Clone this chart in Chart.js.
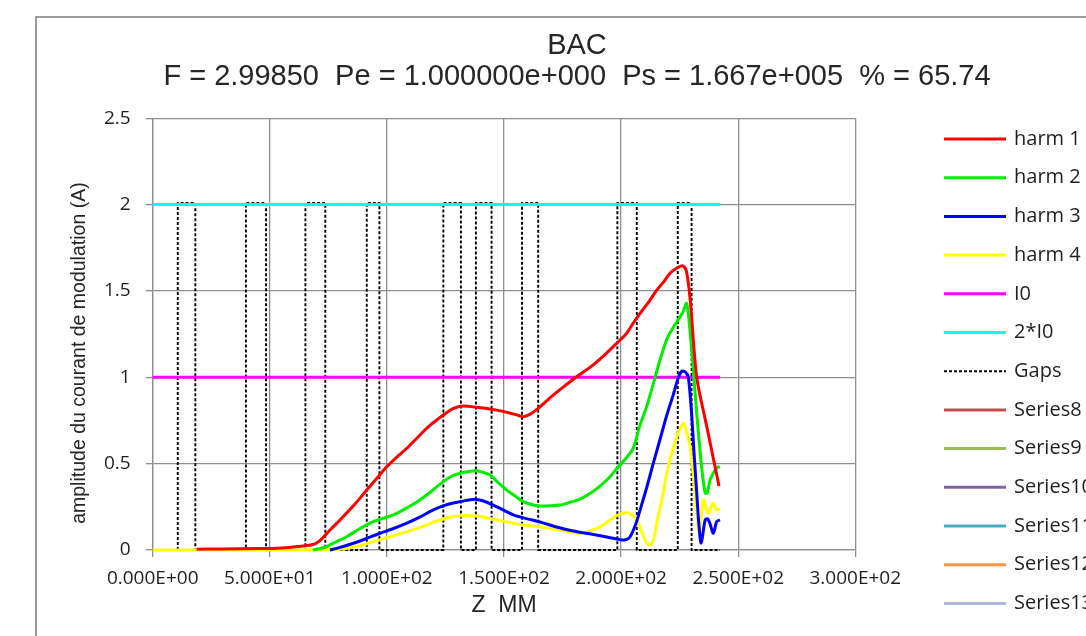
<!DOCTYPE html>
<html><head><meta charset="utf-8">
<script src="https://cdn.jsdelivr.net/npm/chart.js@4.4.0/dist/chart.umd.min.js"></script>
<style>html,body{margin:0;padding:0;background:#fff;overflow:hidden}canvas{display:block}</style>
</head><body>
<canvas id="c" width="1086" height="636"></canvas>
<script>
const titleLines = ['BAC', 'F = 2.99850  Pe = 1.000000e+000  Ps = 1.667e+005  % = 65.74'];
const xAxisTitle = 'Z  MM';
const yAxisTitle = 'amplitude du courant de modulation (A)';
const xTickLabels = ['0.000E+00','5.000E+01','1.000E+02','1.500E+02','2.000E+02','2.500E+02','3.000E+02'];
const yTickLabels = ['0','0.5','1','1.5','2','2.5'];
const seriesNames = ['harm 1','harm 2','harm 3','harm 4','I0','2*I0','Gaps','Series8','Series9','Series10','Series11','Series12','Series13'];

const harm1Z = [18.8,30,45,55,62,68,71,76,80,86,91.4,96,100,104,108.5,113,117,121,124.1,128.4,132.6,138.3,146.9,152,156,158.2,161,164.6,170,175,181,187,193,198.1,202.4,205,208.1,212,215.2,218,220.9,223.5,226.2,227.8,229.5,232.3,236.5,240,241.8];
const harm1  = [0.005,0.006,0.008,0.012,0.02,0.03,0.05,0.12,0.174,0.26,0.347,0.42,0.483,0.535,0.589,0.65,0.705,0.75,0.782,0.82,0.834,0.826,0.81,0.795,0.78,0.772,0.785,0.82,0.885,0.94,1.003,1.06,1.13,1.197,1.255,1.31,1.37,1.44,1.505,1.55,1.602,1.63,1.646,1.62,1.45,1.0,0.72,0.49,0.37];

const harm2Z = [68.5,72,74.3,78,82.8,88,94.2,102.7,108,114.1,119,124.1,128,131.2,135,138.3,141,144,147.5,151.2,155,158.2,162,165.4,170,173.9,178,182.5,187,191,195,198.1,202,205.2,208,210.9,213.7,216.6,219.5,222.3,225.2,226.5,228,229.4,230.8,232.3,234.4,235.9,236.8,238,240.8,242.2];
const harm2  = [0,0.01,0.02,0.045,0.077,0.12,0.164,0.203,0.24,0.29,0.34,0.396,0.43,0.444,0.455,0.459,0.45,0.434,0.39,0.347,0.31,0.28,0.262,0.255,0.256,0.26,0.275,0.295,0.33,0.37,0.42,0.47,0.53,0.59,0.72,0.83,0.96,1.1,1.22,1.29,1.35,1.38,1.428,1.27,1.05,0.79,0.48,0.33,0.33,0.405,0.475,0.482];

const harm3Z = [75.7,80,85.7,91,97.1,102,108.5,114,119.8,125,131.2,135,138.3,141,145.4,150,154,160,165.4,172,179.6,186,193.9,199.5,201.5,203.5,206,208.5,210.9,213.7,216.6,219.5,222.3,224.5,225.9,227.5,228.7,230.1,231.2,232.3,233.2,234.2,235.9,237,238,239.4,240.8,242.2];
const harm3  = [0,0.015,0.039,0.065,0.097,0.12,0.155,0.19,0.232,0.26,0.28,0.29,0.293,0.285,0.26,0.23,0.203,0.18,0.162,0.135,0.11,0.095,0.075,0.06,0.058,0.07,0.14,0.25,0.36,0.5,0.64,0.78,0.9,1.0,1.035,1.03,1.0,0.79,0.55,0.33,0.15,0.04,0.174,0.18,0.15,0.097,0.164,0.174];

const harm4Z = [0,20,40,60,70,80,87,94.2,101,108.5,116,122.7,129.8,138.3,146.9,158.2,165.4,172,179.6,184,188.1,193,198.1,202.4,205,206.7,209,210.5,212.3,213.8,215.2,217.5,219.5,222,224.4,226.6,228,229.5,231.6,233.4,235.1,237.2,239.1,240.8,242.2];
const harm4  = [0,0,0,0,0.002,0.005,0.02,0.048,0.075,0.106,0.14,0.174,0.197,0.197,0.174,0.145,0.135,0.12,0.1,0.1,0.116,0.15,0.2,0.216,0.2,0.174,0.1,0.05,0.029,0.06,0.155,0.3,0.444,0.58,0.676,0.734,0.68,0.598,0.33,0.097,0.29,0.212,0.27,0.232,0.241];

const i0Z = [0,242.2];
const i0  = [1,1];
const twoI0Z = [0,242.2];
const twoI0  = [2,2];

const gapsZ = [0,10.7,10.7,18.2,18.2,39.8,39.8,48.4,48.4,65.2,65.2,73.7,73.7,91.4,91.4,96.8,96.8,124.1,124.1,131.6,131.6,138.0,138.0,144.7,144.7,157.7,157.7,164.6,164.6,198.4,198.4,206.7,206.7,224.2,224.2,230.1,230.1,242.2];
const gaps  = [0,0,2.01,2.01,0,0,2.01,2.01,0,0,2.01,2.01,0,0,2.01,2.01,0,0,2.01,2.01,0,0,2.01,2.01,0,0,2.01,2.01,0,0,2.01,2.01,0,0,2.01,2.01,0,0];

const emptySeries = [];

function pts(zs, ys){ return zs.map((z,i)=>({x:z, y:ys[i]})); }

const colors = ['#ff0000','#00ee00','#0000ff','#ffff00','#ff00ff','#00ffff','#000000','#c0504d','#9bbb59','#8064a2','#4bacc6','#f79646','#aab9dd'];
const seriesData = [pts(harm1Z,harm1), pts(harm2Z,harm2), pts(harm3Z,harm3), pts(harm4Z,harm4), pts(i0Z,i0), pts(twoI0Z,twoI0), pts(gapsZ,gaps), emptySeries, emptySeries, emptySeries, emptySeries, emptySeries, emptySeries];

const datasets = seriesNames.map((name,i)=>({
  label: name,
  data: seriesData[i],
  borderColor: colors[i],
  backgroundColor: colors[i],
  borderWidth: i===6 ? 1.9 : 3,
  borderDash: i===6 ? [3,2] : [],
  tension: (i===6||i===4||i===5) ? 0 : 0.3,
  pointRadius: 0,
  fill: false,
  clip: false
}));

const frameAndLegend = {
  id: 'frameAndLegend',
  beforeDraw(chart){
    const ctx = chart.ctx;
    ctx.save();
    ctx.fillStyle = '#ffffff';
    ctx.fillRect(0,0,chart.width,chart.height);
    ctx.strokeStyle = '#9a9a9a';
    ctx.lineWidth = 2;
    ctx.strokeRect(36, 17, 2000, 2000);
    ctx.restore();
  },
  afterDraw(chart){
    const ctx = chart.ctx;
    ctx.save();
    ctx.font = '20px "Open Sans"';
    ctx.textBaseline = 'middle';
    ctx.textAlign = 'left';
    chart.data.datasets.forEach((ds,i)=>{
      const y = 139 + i*38.7;
      ctx.beginPath();
      ctx.strokeStyle = ds.borderColor;
      ctx.lineWidth = ds.borderWidth;
      ctx.setLineDash(ds.borderDash || []);
      ctx.moveTo(944, y); ctx.lineTo(1006, y);
      ctx.stroke();
      ctx.setLineDash([]);
      ctx.fillStyle = '#1f1f1f';
      ctx.fillText(ds.label, 1014, y);
    });
    ctx.restore();
  }
};

const gridColor = '#8f8f8f';
new Chart(document.getElementById('c'), {
  type: 'line',
  data: { datasets },
  plugins: [frameAndLegend],
  options: {
    responsive: false,
    devicePixelRatio: 1,
    animation: false,
    parsing: true,
    layout: { padding: { left: 68, right: 0, top: 0, bottom: 0 } },
    plugins: {
      legend: { display: false },
      tooltip: { enabled: false },
      title: {
        display: true,
        text: titleLines,
        color: '#262626',
        font: { family: '"Liberation Sans", Arial, sans-serif', size: 29, weight: 'normal', lineHeight: 1.07 },
        padding: { top: 30.5, bottom: 25.7 }
      }
    },
    scales: {
      x: {
        type: 'linear', min: 0, max: 300,
        ticks: { stepSize: 50, padding: 10, color: '#1f1f1f', font: { family: '"Open Sans"', size: 19 },
          callback: (v, idx) => xTickLabels[idx] },
        grid: { color: gridColor, lineWidth: 1.3, tickLength: 7, drawTicks: true },
        border: { color: gridColor, width: 1.3 },
        title: { display: true, text: xAxisTitle, color: '#262626', font: { family: '"Liberation Sans", Arial, sans-serif', size: 23 }, padding: { top: 0, bottom: 16.5 } },
        afterFit(s){ s.height = 86; }
      },
      y: {
        type: 'linear', min: 0, max: 2.5,
        ticks: { stepSize: 0.5, padding: 15, color: '#1f1f1f', font: { family: '"Open Sans"', size: 19 },
          callback: (v, idx) => yTickLabels[idx] },
        grid: { color: gridColor, lineWidth: 1.3, tickLength: 7, drawTicks: true },
        border: { color: gridColor, width: 1.3 },
        title: { display: true, text: yAxisTitle + '\u00a0\u00a0\u00a0\u00a0\u00a0\u00a0\u00a0', color: '#262626', font: { family: '"Liberation Sans", Arial, sans-serif', size: 19.5 }, padding: { top: 0, bottom: 0 } },
        afterFit(s){ s.width = 84.7; }
      },
      yRight: {
        type: 'linear', position: 'right', display: true,
        grid: { display: false }, border: { display: false }, ticks: { display: false },
        afterFit(s){ s.width = 230.7; }
      }
    }
  }
});
</script>
</body></html>
